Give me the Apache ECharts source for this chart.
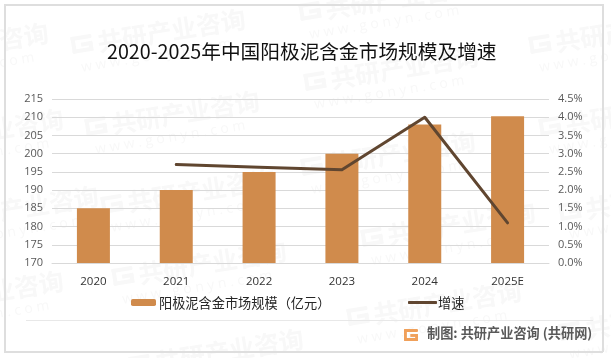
<!DOCTYPE html>
<html>
<head>
<meta charset="utf-8">
<script src="https://cdn.jsdelivr.net/npm/echarts@6/dist/echarts.min.js"></script>
<style>
  html, body { margin: 0; background: #fff; }
  #chart { width: 611px; height: 358px; }
</style>
</head>
<body>
<div id="chart"></div>
<script>
const years = ["2020", "2021", "2022", "2023", "2024", "2025E"];
const marketSize = [185, 190, 195, 200, 208, 210.3];
const growth = [null, 2.7, 2.63, 2.56, 4.0, 1.1];

// watermark anchors: left end of each stamp
const stamps = [
  [-125, 62], [72, 48], [300, 15], [530, 48],
  [-110, 148], [86, 130], [305, 85], [540, 130],
  [-75, 225], [102, 208], [302, 170], [362, 241], [560, 215],
  [-110, 310], [113, 280], [348, 320], [130, 368], [560, 335]
];

const font = '"Noto Sans CJK SC", "Noto Sans", sans-serif';
const latin = '"Open Sans", "Noto Sans CJK SC", sans-serif';
const markColor = "#f8f8f8";

// blocky G logo, used small in the footer and large in the watermark
function logo(x, y, w, h, fill) {
  const bar = h * 0.24;
  return [
    { type: "rect", shape: { x, y, width: w, height: bar, r: 1 }, style: { fill } },
    { type: "rect", shape: { x, y, width: bar, height: h, r: 1 }, style: { fill } },
    { type: "rect", shape: { x, y: y + h - bar, width: w, height: bar, r: 1 }, style: { fill } },
    { type: "rect", shape: { x: x + w - bar, y: y + h * 0.42, width: bar, height: h * 0.58 }, style: { fill } },
    { type: "rect", shape: { x: x + w * 0.45, y: y + h * 0.42, width: w * 0.55, height: bar }, style: { fill } }
  ];
}

function stamp([x, y]) {
  return {
    type: "group",
    x, y,
    rotation: 0.16,
    silent: true,
    z: -1,
    children: [
      ...logo(0, -11, 21, 17, markColor),
      { type: "text", style: { x: 26, y: -14, text: "共研产业咨询", font: "bold 25px " + font, fill: markColor } },
      { type: "text", style: { x: 6, y: 14, text: "w w w . g o n y n . c o m", font: "14px " + latin, fill: markColor } }
    ]
  };
}

const frameColor = "#dedede";
const frame = [
  { type: "rect", shape: { x: 4, y: 4, width: 599, height: 2 }, style: { fill: frameColor } },
  { type: "rect", shape: { x: 4, y: 351, width: 599, height: 2 }, style: { fill: frameColor } },
  { type: "rect", shape: { x: 4, y: 4, width: 2, height: 348 }, style: { fill: frameColor } },
  { type: "rect", shape: { x: 602, y: 4, width: 2, height: 348 }, style: { fill: frameColor } },
  { type: "rect", shape: { x: 26, y: 320, width: 567, height: 1 }, style: { fill: "#e8e8e8" } }
];

const chart = echarts.init(document.getElementById("chart"));
chart.setOption({
  animation: false,
  backgroundColor: "#fff",
  title: {
    text: "2020-2025年中国阳极泥含金市场规模及增速",
    left: 107,
    top: 42,
    padding: 0,
    textStyle: { fontFamily: font, fontSize: 19.7, fontWeight: "normal", color: "#111" }
  },
  legend: [
    {
      left: 131,
      top: 296,
      padding: 0,
      itemWidth: 25,
      itemHeight: 7,
      textStyle: { fontFamily: font, fontSize: 13.2, color: "#262626", padding: [0, 0, 0, -2] },
      data: ["阳极泥含金市场规模（亿元）"]
    },
    {
      left: 408,
      top: 296,
      padding: 0,
      itemWidth: 29,
      itemHeight: 3,
      icon: "roundRect",
      textStyle: { fontFamily: font, fontSize: 13.2, color: "#262626", padding: [0, 0, 0, -4] },
      data: ["增速"]
    }
  ],
  grid: { left: 52, right: 62, top: 99, bottom: 95 },
  xAxis: {
    type: "category",
    data: years,
    axisTick: { show: false },
    axisLine: { lineStyle: { color: "#d9d9d9" } },
    axisLabel: { fontFamily: latin, fontSize: 11.5, color: "#333", margin: 13 }
  },
  yAxis: [
    {
      type: "value",
      min: 170,
      max: 215,
      interval: 5,
      axisLine: { show: false },
      axisTick: { show: false },
      splitLine: { lineStyle: { color: "#d9d9d9" } },
      axisLabel: { fontFamily: latin, fontSize: 11, color: "#595959", margin: 9 }
    },
    {
      type: "value",
      min: 0,
      max: 4.5,
      interval: 0.5,
      axisLine: { show: false },
      axisTick: { show: false },
      splitLine: { show: false },
      axisLabel: {
        fontFamily: latin, fontSize: 11, color: "#595959", margin: 9,
        formatter: (v) => v.toFixed(1) + "%"
      }
    }
  ],
  series: [
    {
      name: "阳极泥含金市场规模（亿元）",
      type: "bar",
      barWidth: 33,
      data: marketSize,
      itemStyle: { color: "#d08b4c" }
    },
    {
      name: "增速",
      type: "line",
      yAxisIndex: 1,
      symbol: "none",
      data: growth,
      lineStyle: { color: "#604630", width: 3, cap: "round", join: "round" },
      itemStyle: { color: "#604630" }
    }
  ],
  graphic: {
    elements: [
      ...stamps.map(stamp),
      { type: "group", silent: true, z: 10, children: frame },
      { type: "group", silent: true, z: 10, children: logo(404, 329, 14, 12, "#f0a05a") },
      {
        type: "text", silent: true, z: 10,
        style: { x: 427, y: 326, text: "制图: 共研产业咨询 (共研网)", font: "bold 13.2px " + font, fill: "#595959" }
      }
    ]
  }
});
</script>
</body>
</html>
